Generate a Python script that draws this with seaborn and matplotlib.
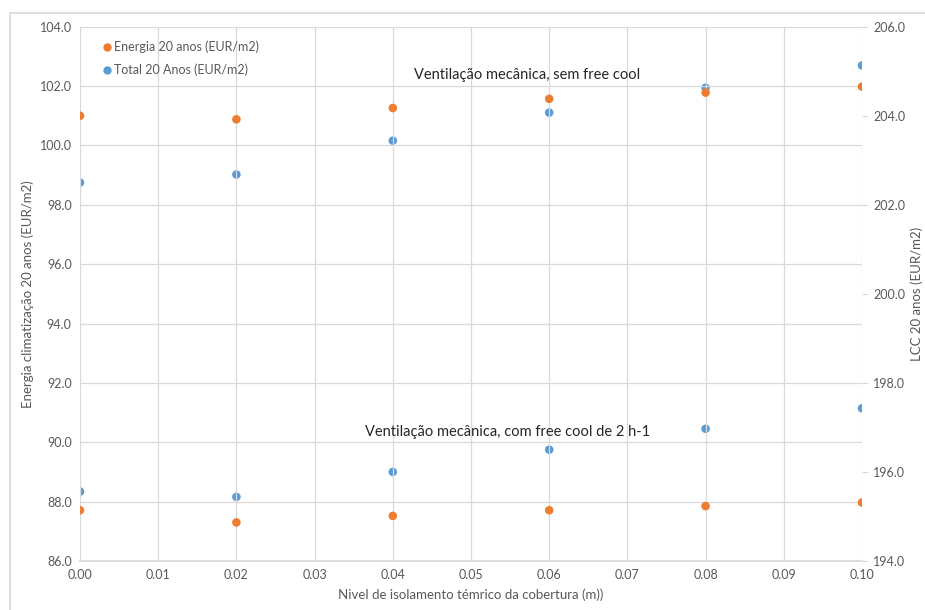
import matplotlib
matplotlib.use("Agg")
import matplotlib.pyplot as plt
from matplotlib.patches import Rectangle
from matplotlib.lines import Line2D
from matplotlib.ticker import MultipleLocator, FormatStrFormatter
import seaborn as sns
import pandas as pd

sns.set_theme(style="white")
plt.rcParams["font.family"] = ["Lato", "DejaVu Sans"]

# Insulation thickness (m)
espessura = [0.00, 0.02, 0.04, 0.06, 0.08, 0.10]

# Energy cost over 20 years (EUR/m2) - left axis
energia_sem_fc = [101.00, 100.88, 101.26, 101.57, 101.78, 101.98]
energia_com_fc = [87.71, 87.30, 87.52, 87.71, 87.85, 87.97]

# Life-cycle cost over 20 years (EUR/m2) - right axis
total_sem_fc = [202.50, 202.68, 203.44, 204.07, 204.63, 205.13]
total_com_fc = [195.56, 195.44, 196.00, 196.50, 196.97, 197.43]

serie_energia = "Energia 20 anos (EUR/m2)"
serie_total = "Total 20 Anos (EUR/m2)"
cenario_sem = "Ventilação mecânica, sem free cool"
cenario_com = "Ventilação mecânica, com free cool de 2 h-1"

laranja = "#ED7D31"
azul = "#5B9BD5"
cinza_txt = "#595959"
cinza_grid = "#D9D9D9"

df_energia = pd.DataFrame({
    "x": espessura * 2,
    "valor": energia_sem_fc + energia_com_fc,
})
df_total = pd.DataFrame({
    "x": espessura * 2,
    "valor": total_sem_fc + total_com_fc,
})

fig = plt.figure(figsize=(9.25, 6.10), dpi=100)
ax = fig.add_axes([80 / 925, 1 - 561 / 610, 782 / 925, 534.3 / 610])
ax2 = ax.twinx()

sns.scatterplot(data=df_total, x="x", y="valor", ax=ax2, color=azul,
                s=38, edgecolor="none", zorder=3, legend=False)
sns.scatterplot(data=df_energia, x="x", y="valor", ax=ax, color=laranja,
                s=38, edgecolor="none", zorder=3, legend=False)
ax.set_zorder(ax2.get_zorder() + 1)
ax.patch.set_visible(False)

ax.set_xlim(0, 0.10)
ax.set_ylim(86, 104)
ax2.set_ylim(194, 206)
ax.xaxis.set_major_locator(MultipleLocator(0.01))
ax.xaxis.set_major_formatter(FormatStrFormatter("%.2f"))
ax.yaxis.set_major_locator(MultipleLocator(2))
ax.yaxis.set_major_formatter(FormatStrFormatter("%.1f"))
ax2.yaxis.set_major_locator(MultipleLocator(2))
ax2.yaxis.set_major_formatter(FormatStrFormatter("%.1f"))

ax.grid(True, color=cinza_grid, linewidth=0.9)
ax2.grid(False)
for a in (ax, ax2):
    for s in a.spines.values():
        s.set_visible(False)
ax.spines["bottom"].set_visible(True)
ax.spines["bottom"].set_color(cinza_grid)

ax.tick_params(axis="both", colors=cinza_txt, labelsize=9, length=0, pad=6)
ax2.tick_params(axis="y", colors=cinza_txt, labelsize=9, length=4,
                width=0.8, pad=4)
ax2.tick_params(axis="y", color=cinza_grid)

ax.set_xlabel("Nivel de isolamento témrico da cobertura (m))",
              color=cinza_txt, fontsize=9.5, labelpad=5)
ax.set_ylabel("Energia climatização 20 anos (EUR/m2)",
              color=cinza_txt, fontsize=9.5, labelpad=4)
ax2.set_ylabel("LCC 20 anos (EUR/m2)", color=cinza_txt, fontsize=9.5,
               labelpad=4)

ax.text(0.0572, 102.37, cenario_sem, ha="center", va="center",
        fontsize=10.5, color="#262626")
ax.text(0.0547, 90.34, cenario_com, ha="center", va="center",
        fontsize=10.5, color="#262626")

handles = [
    Line2D([], [], linestyle="none", marker="o", markersize=6,
           markerfacecolor=laranja, markeredgecolor="none",
           label=serie_energia),
    Line2D([], [], linestyle="none", marker="o", markersize=6,
           markerfacecolor=azul, markeredgecolor="none",
           label=serie_total),
]
leg = ax.legend(handles=handles, loc="upper left",
                bbox_to_anchor=(0.012, 0.995), frameon=False,
                fontsize=9, handletextpad=0.1, labelspacing=0.85,
                handlelength=1.0)
for t in leg.get_texts():
    t.set_color(cinza_txt)

fig.patches.append(Rectangle((10 / 925, -0.05), 1.0, 1 - 13 / 610 + 0.05,
                             transform=fig.transFigure, fill=False,
                             edgecolor="#D9D9D9", linewidth=1.2))

fig.savefig("out.png", dpi=100, facecolor="white")
